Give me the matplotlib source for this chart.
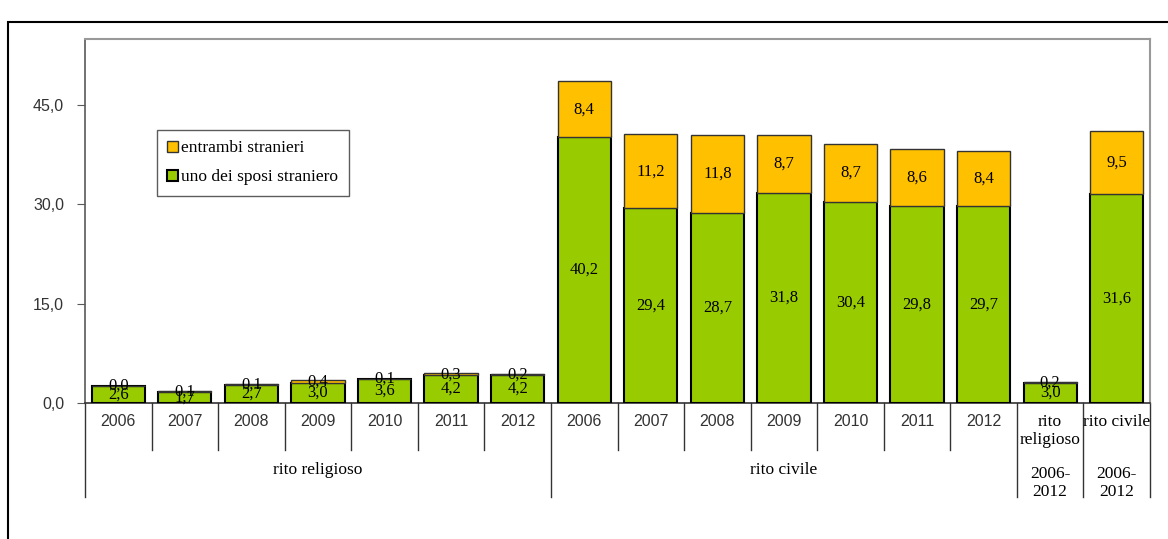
import numpy as np
import matplotlib
matplotlib.use("Agg")
import matplotlib.pyplot as plt
import matplotlib.patches as patches
from matplotlib.transforms import blended_transform_factory

# data
years = ["2006", "2007", "2008", "2009", "2010", "2011", "2012"]
uno_religioso = [2.6, 1.7, 2.7, 3.0, 3.6, 4.2, 4.2]
entrambi_religioso = [0.0, 0.1, 0.1, 0.4, 0.1, 0.3, 0.2]
uno_civile = [40.2, 29.4, 28.7, 31.8, 30.4, 29.8, 29.7]
entrambi_civile = [8.4, 11.2, 11.8, 8.7, 8.7, 8.6, 8.4]
uno_totale = [3.0, 31.6]
entrambi_totale = [0.2, 9.5]
inner_labels = years + years + ["rito\nreligioso", "rito civile"]
groups = ["rito religioso", "rito civile", "2006-\n2012", "2006-\n2012"]

uno = np.array(uno_religioso + uno_civile + uno_totale)
entrambi = np.array(entrambi_religioso + entrambi_civile + entrambi_totale)
x = np.arange(len(uno))

GREEN = "#99CC00"
ORANGE = "#FFC000"
serif = "Liberation Serif"
sans = "Liberation Sans"

def fmt(v):
    return ("%.1f" % v).replace(".", ",")

fig = plt.figure(figsize=(11.68, 5.39), dpi=100)
W, H = 1168, 539
ax = fig.add_axes([85 / W, (H - 403) / H, (1150 - 85) / W, (403 - 39) / H])

ax.bar(x, uno, 0.8, color=GREEN, edgecolor="black", linewidth=1.5, label="uno dei sposi straniero", zorder=3)
ax.bar(x, entrambi, 0.8, bottom=uno, color=ORANGE, edgecolor="#333333", linewidth=1.0,
       label="entrambi stranieri", zorder=3)

for i in x:
    ax.text(i, uno[i] / 2, fmt(uno[i]), ha="center", va="center", fontsize=12, family=serif, zorder=4)
    ax.text(i, uno[i] + entrambi[i] / 2, fmt(entrambi[i]), ha="center", va="center", fontsize=12,
            family=serif, zorder=4)

ax.set_xlim(-0.5, len(x) - 0.5)
ax.set_ylim(0, 55)
ax.set_yticks([0, 15, 30, 45])
ax.set_yticklabels([fmt(v) for v in [0, 15, 30, 45]], family=sans, fontsize=11.5, color="#333333")
ax.tick_params(axis="y", direction="out", length=6, pad=9, color="#595959")
ax.set_xticks([])

for s in ["top", "right"]:
    ax.spines[s].set_color("#999999")
    ax.spines[s].set_linewidth(1.5)
ax.spines["left"].set_color("#595959")
ax.spines["bottom"].set_color("#333333")
ax.spines["left"].set_linewidth(1.2)
ax.spines["bottom"].set_linewidth(1.2)

# multi-level category axis
tr = blended_transform_factory(ax.transData, ax.transAxes)
h = 403 - 39
for i, lab in enumerate(inner_labels):
    if i < 14:
        ax.text(i, -19 / h, lab, transform=tr, ha="center", va="center", family=sans, fontsize=11.5,
                color="#333333")
    else:
        ax.text(i, (-19 if i == 15 else -28) / h, lab, transform=tr, ha="center", va="center",
                family=serif, fontsize=12.5, linespacing=1.15)

for b in [0.5, 1.5, 2.5, 3.5, 4.5, 5.5, 7.5, 8.5, 9.5, 10.5, 11.5, 12.5]:
    ax.plot([b, b], [0, -47 / h], transform=tr, color="#333333", lw=1.0, clip_on=False)
for b in [-0.5, 6.5, 13.5, 14.5, 15.5]:
    ax.plot([b, b], [0, -94 / h], transform=tr, color="#333333", lw=1.0, clip_on=False)

ax.text(3, -67 / h, groups[0], transform=tr, ha="center", va="center", family=serif, fontsize=12.5)
ax.text(10, -67 / h, groups[1], transform=tr, ha="center", va="center", family=serif, fontsize=12.5)
ax.text(14, -80 / h, groups[2], transform=tr, ha="center", va="center", family=serif, fontsize=12.5,
        linespacing=1.15)
ax.text(15, -80 / h, groups[3], transform=tr, ha="center", va="center", family=serif, fontsize=12.5,
        linespacing=1.15)

handles, labels = ax.get_legend_handles_labels()
leg = ax.legend(handles[::-1], labels[::-1], loc="upper left", bbox_to_anchor=(0.0676, 0.75),
                prop={"family": serif, "size": 12.5}, frameon=True, fancybox=False,
                handlelength=0.6, handleheight=0.6, handletextpad=0.2, labelspacing=0.75,
                borderpad=0.6, borderaxespad=0)
leg.get_frame().set_edgecolor("#333333")
leg.get_frame().set_linewidth(1.0)

# outer chart border
fig.patches.append(patches.Rectangle((8 / W, -0.1), 1.2, (H - 22) / H + 0.1, transform=fig.transFigure,
                                     fill=False, edgecolor="black", linewidth=1.5))

fig.savefig("out.png", dpi=100)
